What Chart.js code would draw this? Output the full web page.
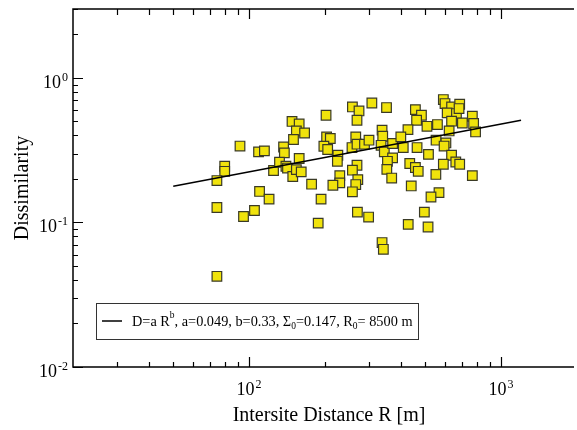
<!DOCTYPE html>
<html>
<head>
<meta charset="utf-8">
<script src="https://cdn.jsdelivr.net/npm/chart.js@4/dist/chart.umd.min.js"></script>
<style>
  html, body { margin: 0; padding: 0; background: #fff; }
  #wrap { width: 577px; height: 430px; position: relative; }
</style>
</head>
<body>
<div id="wrap"><canvas id="dissChart"></canvas></div>
<script>
// intersite distance R [m] and dissimilarity for each station pair
const distR = [148, 158, 154, 150, 92, 109, 115, 137, 138, 80, 80, 74.5, 125, 132, 140, 142, 149, 154, 158, 110,
  120, 74.5, 105, 95, 74.5, 166, 202, 257, 273, 268, 307, 351, 203, 210, 198, 205, 225, 224, 161, 265,
  256, 268, 287, 299, 337, 339, 334, 344, 371, 371, 354, 352, 368, 268, 257, 229, 229, 215, 270, 265,
  257, 177, 193, 269, 298, 188, 337, 341, 590, 599, 636, 685, 611, 665, 681, 457, 483, 462, 769, 778,
  792, 702, 636, 508, 559, 622, 427, 400, 409, 464, 552, 604, 594, 515, 636, 661, 685, 590, 434, 457,
  469, 551, 769, 440, 567, 527, 496, 428, 513];
const dissim = [0.50, 0.48, 0.43, 0.375, 0.338, 0.308, 0.313, 0.333, 0.303, 0.245, 0.226, 0.195, 0.229, 0.261, 0.245, 0.238, 0.208, 0.232, 0.277, 0.164,
  0.145, 0.127, 0.121, 0.110, 0.0424, 0.416, 0.552, 0.630, 0.591, 0.510, 0.671, 0.624, 0.391, 0.381, 0.337, 0.320, 0.292, 0.265, 0.224, 0.391,
  0.330, 0.348, 0.348, 0.371, 0.435, 0.395, 0.342, 0.308, 0.352, 0.280, 0.265, 0.233, 0.203, 0.249, 0.230, 0.211, 0.188, 0.181, 0.198, 0.183,
  0.163, 0.184, 0.145, 0.118, 0.109, 0.099, 0.0726, 0.0652, 0.709, 0.665, 0.630, 0.658, 0.573, 0.567, 0.614, 0.604, 0.552, 0.510, 0.543, 0.484,
  0.423, 0.488, 0.502, 0.463, 0.476, 0.430, 0.439, 0.391, 0.330, 0.330, 0.371, 0.355, 0.338, 0.296, 0.292, 0.262, 0.253, 0.253, 0.256, 0.240,
  0.226, 0.215, 0.211, 0.179, 0.161, 0.150, 0.118, 0.097, 0.093];

// fitted power law D = a R^b, end points of the drawn segment
const fitR = [50, 1200];
const fitD = [0.178, 0.509];

// axis ticks
const xMajor = [100, 1000];
const xMajorLabels = [['10', '2'], ['10', '3']];
const xMinor = [30, 40, 50, 60, 70, 80, 90, 200, 300, 400, 500, 600, 700, 800, 900];
const yMajor = [0.01, 0.1, 1];
const yMajorLabels = [['10', '-2'], ['10', '-1'], ['10', '0']];
const yMinor = [0.02, 0.03, 0.04, 0.05, 0.06, 0.07, 0.08, 0.09, 0.2, 0.3, 0.4, 0.5, 0.6, 0.7, 0.8, 0.9, 2, 3];

const SERIF = '"Liberation Serif", "DejaVu Serif", serif';

function drawPow(ctx, base, exp, x, y, align) {
  ctx.font = '18px ' + SERIF;
  const wb = ctx.measureText(base).width;
  ctx.font = '12px ' + SERIF;
  const we = ctx.measureText(exp).width;
  const w = wb + 1 + we;
  let x0 = align === 'right' ? x - w : x - w / 2;
  ctx.textAlign = 'left';
  ctx.textBaseline = 'alphabetic';
  ctx.font = '18px ' + SERIF;
  ctx.fillText(base, x0, y);
  ctx.font = '12px ' + SERIF;
  ctx.fillText(exp, x0 + wb + 1, y - 7);
}

const axesPlugin = {
  id: 'axesPlugin',
  afterDraw(chart) {
    const ctx = chart.ctx;
    const a = chart.chartArea;
    const xs = chart.scales.x, ys = chart.scales.y;
    ctx.save();
    ctx.strokeStyle = '#000';
    ctx.fillStyle = '#000';
    ctx.lineWidth = 1.5;
    ctx.beginPath();
    ctx.moveTo(a.right + 5, a.top);
    ctx.lineTo(a.left, a.top);
    ctx.lineTo(a.left, a.bottom);
    ctx.lineTo(a.right + 5, a.bottom);
    ctx.stroke();

    ctx.lineWidth = 1.2;
    ctx.beginPath();
    xMajor.forEach(v => {
      const px = Math.round(xs.getPixelForValue(v)) + 0.5;
      ctx.moveTo(px, a.bottom); ctx.lineTo(px, a.bottom - 10);
      ctx.moveTo(px, a.top); ctx.lineTo(px, a.top + 10);
    });
    xMinor.forEach(v => {
      const px = Math.round(xs.getPixelForValue(v)) + 0.5;
      ctx.moveTo(px, a.bottom); ctx.lineTo(px, a.bottom - 5);
      ctx.moveTo(px, a.top); ctx.lineTo(px, a.top + 6);
    });
    yMajor.forEach(v => {
      const py = Math.round(ys.getPixelForValue(v)) + 0.5;
      ctx.moveTo(a.left, py); ctx.lineTo(a.left + 10, py);
    });
    yMinor.forEach(v => {
      const py = Math.round(ys.getPixelForValue(v)) + 0.5;
      ctx.moveTo(a.left, py); ctx.lineTo(a.left + 5, py);
    });
    ctx.stroke();

    xMajor.forEach((v, i) => {
      drawPow(ctx, xMajorLabels[i][0], xMajorLabels[i][1], xs.getPixelForValue(v), a.bottom + 28, 'center');
    });
    yMajor.forEach((v, i) => {
      drawPow(ctx, yMajorLabels[i][0], yMajorLabels[i][1], a.left - 5, ys.getPixelForValue(v) + 10, 'right');
    });

    // axis titles
    ctx.font = '20px ' + SERIF;
    ctx.textAlign = 'center';
    ctx.textBaseline = 'alphabetic';
    ctx.fillText('Intersite Distance R [m]', 329, 421);
    ctx.save();
    ctx.translate(28, (a.top + a.bottom) / 2);
    ctx.rotate(-Math.PI / 2);
    ctx.fillText('Dissimilarity', 0, 0);
    ctx.restore();

    // legend box
    ctx.lineWidth = 1;
    ctx.strokeStyle = '#333';
    ctx.strokeRect(96.5, 303.5, 322, 36);
    ctx.strokeStyle = '#000';
    ctx.lineWidth = 1.5;
    ctx.beginPath();
    ctx.moveTo(102, 321); ctx.lineTo(122, 321);
    ctx.stroke();
    const parts = [
      ['D=a R', 0], ['b', 1], [', a=0.049, b=0.33, \u03A3', 0], ['0', -1],
      ['=0.147, R', 0], ['0', -1], ['= 8500 m', 0]
    ];
    let tx = 132;
    ctx.textAlign = 'left';
    parts.forEach(p => {
      ctx.font = (p[1] === 0 ? '14.3px ' : '9.5px ') + SERIF;
      const dy = p[1] === 1 ? -8 : (p[1] === -1 ? 3 : 0);
      ctx.fillText(p[0], tx, 326 + dy);
      tx += ctx.measureText(p[0]).width;
    });
    ctx.restore();
  }
};

const ctx = document.getElementById('dissChart').getContext('2d');
new Chart(ctx, {
  type: 'scatter',
  data: {
    datasets: [
      {
        label: 'fit',
        type: 'line',
        data: fitR.map((r, i) => ({ x: r, y: fitD[i] })),
        borderColor: '#000',
        borderWidth: 1.5,
        pointRadius: 0,
        showLine: true,
        fill: false
      },
      {
        label: 'pairs',
        data: distR.map((r, i) => ({ x: r, y: dissim[i] })),
        pointStyle: 'rect',
        pointRadius: 6.8,
        backgroundColor: '#f0e30c',
        borderColor: '#3a3a26',
        borderWidth: 1.2
      }
    ]
  },
  options: {
    responsive: true,
    maintainAspectRatio: false,
    animation: false,
    layout: { padding: { left: 73, top: 9, right: 0, bottom: 63 } },
    scales: {
      x: { type: 'logarithmic', min: 20, max: 1860, display: false },
      y: { type: 'logarithmic', min: 0.01, max: 3, display: false }
    },
    plugins: {
      legend: { display: false },
      tooltip: { enabled: false }
    }
  },
  plugins: [axesPlugin]
});
</script>
</body>
</html>
